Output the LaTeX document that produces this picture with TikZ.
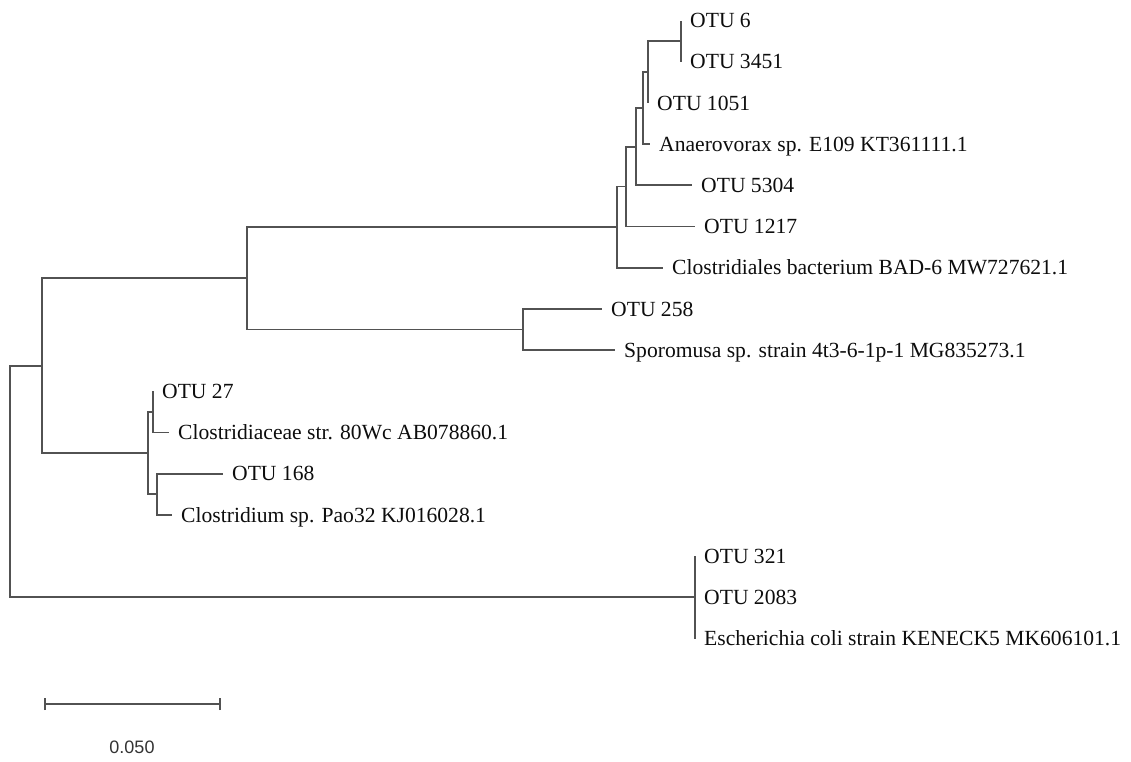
\documentclass[tikz,border=0pt]{standalone}
\usepackage{fontspec}
\setmainfont{Liberation Serif}
\newfontfamily\barfont{Liberation Sans}
\begin{document}
\begin{tikzpicture}[x=1pt,y=-1pt,
  branch/.style={draw=black!68, line width=1.7pt},
  leaf/.style={anchor=west, inner sep=0pt, xshift=9pt, font=\fontsize{21.6}{25}\selectfont, text height=14.3pt, text depth=0pt, text=black!95},
  barlabel/.style={inner sep=0pt, font=\barfont\fontsize{18}{20}\selectfont, text=black!80}
  ]
\useasboundingbox (0,0) rectangle (1131,761);
% leaf tips
\coordinate (t1) at (681,20.5);
\coordinate (t2) at (681,61.7);
\coordinate (t3) at (648,102.9);
\coordinate (t4) at (650,144.1);
\coordinate (t5) at (692,185.3);
\coordinate (t6) at (695,226.5);
\coordinate (t7) at (663,267.7);
\coordinate (t8) at (602,308.9);
\coordinate (t9) at (615,350.1);
\coordinate (t10) at (153,391.3);
\coordinate (t11) at (169,432.5);
\coordinate (t12) at (223,473.7);
\coordinate (t13) at (172,514.9);
\coordinate (t14) at (695,556.1);
\coordinate (t15) at (695,597.3);
\coordinate (t16) at (695,638.5);
% internal nodes
\coordinate (A1) at (681,41.1);
\coordinate (A) at (648,72);
\coordinate (B) at (643,108);
\coordinate (C) at (636,146.7);
\coordinate (D) at (626,186.6);
\coordinate (E) at (617,227.2);
\coordinate (H) at (523,329.5);
\coordinate (F) at (247,278.3);
\coordinate (I) at (153,411.9);
\coordinate (K) at (157,494.3);
\coordinate (J) at (148,453.1);
\coordinate (G) at (42,365.7);
\coordinate (L) at (695,597.3);
\coordinate (R) at (10,481.5);
% labels
\node[leaf] (l1) at (t1) {OTU 6};
\node[leaf] (l2) at (t2) {OTU 3451};
\node[leaf] (l3) at (t3) {OTU 1051};
\node[leaf] (l4) at (t4) {Anaerovorax sp. E109 KT361111.1};
\node[leaf] (l5) at (t5) {OTU 5304};
\node[leaf] (l6) at (t6) {OTU 1217};
\node[leaf] (l7) at (t7) {Clostridiales bacterium BAD-6 MW727621.1};
\node[leaf] (l8) at (t8) {OTU 258};
\node[leaf] (l9) at (t9) {Sporomusa sp. strain 4t3-6-1p-1 MG835273.1};
\node[leaf] (l10) at (t10) {OTU 27};
\node[leaf] (l11) at (t11) {Clostridiaceae str. 80Wc AB078860.1};
\node[leaf] (l12) at (t12) {OTU 168};
\node[leaf] (l13) at (t13) {Clostridium sp. Pao32 KJ016028.1};
\node[leaf] (l14) at (t14) {OTU 321};
\node[leaf] (l15) at (t15) {OTU 2083};
\node[leaf] (l16) at (t16) {Escherichia coli strain KENECK5 MK606101.1};
% branches
\draw[branch] (A1) |- (t1);
\draw[branch] (A1) |- (t2);
\draw[branch] (A) |- (A1);
\draw[branch] (A) |- (t3);
\draw[branch] (B) |- (A);
\draw[branch] (B) |- (t4);
\draw[branch] (C) |- (B);
\draw[branch] (C) |- (t5);
\draw[branch] (D) |- (C);
\draw[branch] (D) |- (t6);
\draw[branch] (E) |- (D);
\draw[branch] (E) |- (t7);
\draw[branch] (H) |- (t8);
\draw[branch] (H) |- (t9);
\draw[branch] (F) |- (E);
\draw[branch] (F) |- (H);
\draw[branch] (I) |- (t10);
\draw[branch] (I) |- (t11);
\draw[branch] (K) |- (t12);
\draw[branch] (K) |- (t13);
\draw[branch] (J) |- (I);
\draw[branch] (J) |- (K);
\draw[branch] (G) |- (F);
\draw[branch] (G) |- (J);
\draw[branch] (L) |- (t14);
\draw[branch] (L) |- (t16);
\draw[branch] (R) |- (G);
\draw[branch] (R) |- (L);
% scale bar
\coordinate (s1) at (45,704);
\coordinate (s2) at (220,704);
\draw[branch] (s1) -- (s2);
\draw[branch] ([yshift=-6pt]s1) -- ([yshift=6pt]s1);
\draw[branch] ([yshift=-6pt]s2) -- ([yshift=6pt]s2);
\node[barlabel] (sl) at (132,747) {0.050};
\end{tikzpicture}
\end{document}
